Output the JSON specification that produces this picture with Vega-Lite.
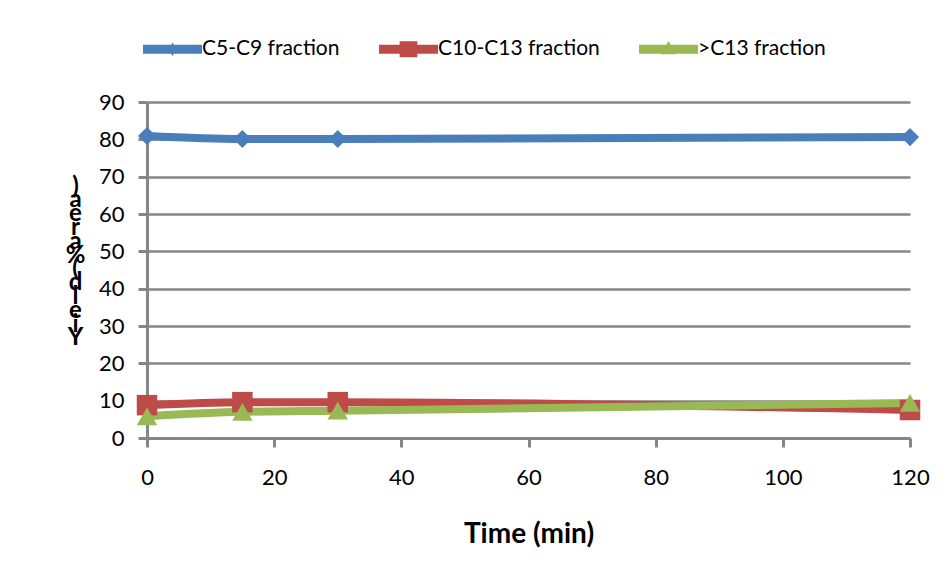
{
  "$schema": "https://vega.github.io/schema/vega-lite/v6.json",
  "width": 763,
  "height": 336,
  "autosize": {"type": "none"},
  "padding": {"left": 147, "top": 102, "right": 39, "bottom": 140},
  "background": "white",
  "config": {
    "view": {"stroke": null},
    "font": "Lato",
    "axis": {"labelFont": "Lato", "titleFont": "Lato", "labelColor": "#000000", "titleColor": "#000000"}
  },
  "data": {
    "values": [
      {"time": 0, "value": 80.9, "series": "C5-C9 fraction"},
      {"time": 15, "value": 80.1, "series": "C5-C9 fraction"},
      {"time": 30, "value": 80.1, "series": "C5-C9 fraction"},
      {"time": 120, "value": 80.6, "series": "C5-C9 fraction"},
      {"time": 0, "value": 8.8, "series": "C10-C13 fraction"},
      {"time": 15, "value": 9.6, "series": "C10-C13 fraction"},
      {"time": 30, "value": 9.6, "series": "C10-C13 fraction"},
      {"time": 120, "value": 7.5, "series": "C10-C13 fraction"},
      {"time": 0, "value": 5.8, "series": ">C13 fraction"},
      {"time": 15, "value": 7.0, "series": ">C13 fraction"},
      {"time": 30, "value": 7.3, "series": ">C13 fraction"},
      {"time": 120, "value": 9.4, "series": ">C13 fraction"}
    ]
  },
  "encoding": {
    "x": {
      "field": "time", "type": "quantitative",
      "scale": {"domain": [0, 120], "nice": false, "zero": false},
      "axis": {
        "values": [0, 20, 40, 60, 80, 100, 120],
        "title": "Time (min)", "titleFontSize": 28, "titleFontWeight": "bold", "titlePadding": 32,
        "labelFontSize": 22, "labelPadding": 20, "tickSize": 9, "tickWidth": 3, "tickColor": "#868686",
        "domainColor": "#868686", "domainWidth": 3, "grid": false, "labelFlush": false
      }
    },
    "y": {
      "field": "value", "type": "quantitative",
      "scale": {"domain": [0, 90], "nice": false},
      "axis": {
        "values": [0, 10, 20, 30, 40, 50, 60, 70, 80, 90],
        "title": [")", "a", "e", "r", "a", " ", "%", "(", " ", "d", "l", "e", "i", "Y"],
        "titleAngle": 0, "titleAlign": "center", "titleBaseline": "middle",
        "titleX": -72, "titleY": 84, "titleLineHeight": 13.8, "titleFontSize": 24, "titleFontWeight": "bold",
        "labelFontSize": 22, "labelPadding": 14, "tickSize": 9, "tickWidth": 3, "tickColor": "#868686",
        "domainColor": "#868686", "domainWidth": 3,
        "grid": true, "gridColor": "#868686", "gridWidth": 2.5
      }
    }
  },
  "layer": [
    {
      "mark": {"type": "line", "strokeWidth": 8, "interpolate": "monotone"},
      "encoding": {
        "color": {
          "field": "series", "type": "nominal",
          "scale": {"domain": ["C5-C9 fraction", "C10-C13 fraction", ">C13 fraction"], "range": ["#4A7EBB", "#BE4B48", "#98B954"]},
          "legend": {
            "title": null, "orient": "none", "direction": "horizontal", "legendX": -4, "legendY": -82.5,
            "labelFontSize": 21, "labelFont": "Lato", "labelColor": "#000000", "labelOffset": 0, "labelLimit": 400,
            "columnPadding": 39, "symbolSize": 3481, "padding": 0,
            "encode": {
              "symbols": {
                "update": {
                  "shape": {"signal": "datum.value === 'C5-C9 fraction' ? 'M-1,-0.15H1V0.15H-1Z M0,-0.23L0.14,0L0,0.23L-0.14,0Z' : datum.value === 'C10-C13 fraction' ? 'M-1,-0.15H1V0.15H-1Z M-0.3,-0.27H0.3V0.27H-0.3Z' : 'M-1,-0.15H1V0.15H-1Z M0,-0.28L0.26,0.17H-0.26Z'"},
                  "fill": {"scale": "color", "field": "value"},
                  "stroke": {"value": null},
                  "strokeWidth": {"value": 0},
                  "opacity": {"value": 1}
                }
              }
            }
          }
        }
      }
    },
    {
      "transform": [{"filter": "datum.series === 'C5-C9 fraction'"}],
      "mark": {"type": "point", "filled": true, "size": 330, "opacity": 1, "shape": "diamond"},
      "encoding": {"color": {"field": "series", "type": "nominal", "legend": null}}
    },
    {
      "transform": [{"filter": "datum.series === 'C10-C13 fraction'"}],
      "mark": {"type": "point", "filled": true, "size": 420, "opacity": 1, "shape": "square"},
      "encoding": {"color": {"field": "series", "type": "nominal", "legend": null}}
    },
    {
      "transform": [{"filter": "datum.series === '>C13 fraction'"}],
      "mark": {"type": "point", "filled": true, "size": 420, "opacity": 1, "shape": "triangle-up"},
      "encoding": {"color": {"field": "series", "type": "nominal", "legend": null}}
    }
  ]
}
